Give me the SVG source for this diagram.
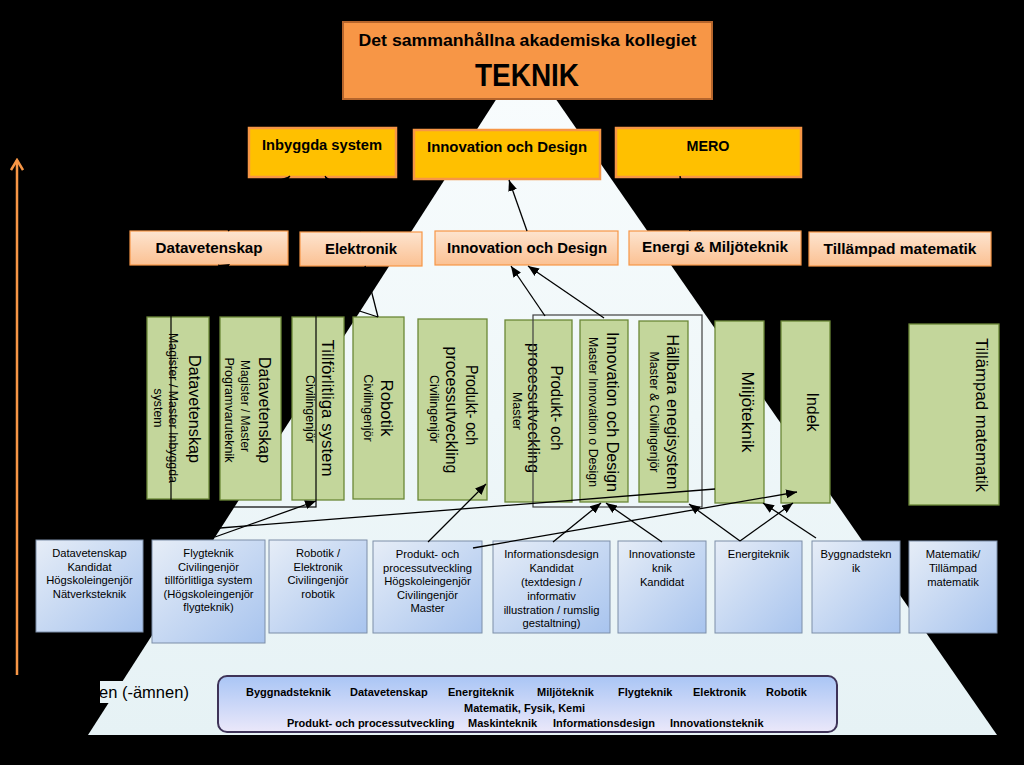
<svg xmlns="http://www.w3.org/2000/svg" width="1024" height="765" viewBox="0 0 1024 765">
<defs>
<linearGradient id="pyr" x1="0" y1="0" x2="0" y2="1"><stop offset="0" stop-color="#f8fcfd"/><stop offset="1" stop-color="#e6f2f5"/></linearGradient>
<linearGradient id="peach" x1="0" y1="0" x2="0" y2="1"><stop offset="0" stop-color="#fde4cf"/><stop offset="1" stop-color="#fbc193"/></linearGradient>
<linearGradient id="blue" x1="0" y1="0" x2="1" y2="1"><stop offset="0" stop-color="#e6edf7"/><stop offset="1" stop-color="#a8c4ee"/></linearGradient>
<linearGradient id="base" x1="0" y1="0" x2="0" y2="1"><stop offset="0" stop-color="#a9c5f5"/><stop offset="1" stop-color="#ebe8fa"/></linearGradient>
<marker id="ah" markerUnits="userSpaceOnUse" markerWidth="11" markerHeight="9" refX="11" refY="4.5" orient="auto"><path d="M0,0 L11,4.5 L0,9 z" fill="#000"/></marker>
<marker id="oah" markerUnits="userSpaceOnUse" markerWidth="14" markerHeight="14" refX="12" refY="7" orient="auto"><path d="M2,1 L12,7 L2,13" fill="none" stroke="#f79646" stroke-width="2.5"/></marker>
<style>
text{font-family:"Liberation Sans",Arial,sans-serif;fill:#000}
.top{fill:#f79646;stroke:#b5652c;stroke-width:2}
.yel{fill:#ffc000;stroke:#f79646;stroke-width:2.5}
.pch{fill:url(#peach);stroke:#f79646;stroke-width:1.2}
.grn{fill:#c3d69b;stroke:#6b8737;stroke-width:1.3}
.blu{fill:url(#blue);stroke:#7d8ea8;stroke-width:1}
.b{font-weight:bold}
.t16{font-size:16.5px}
.t12{font-size:12px}
.t11{font-size:11.2px}
.hd{font-size:14.5px;font-weight:bold}
.sm{font-size:11px;font-weight:bold}
.con line{stroke:#000;stroke-width:1.3;fill:none}
</style>
</defs>
<rect x="0" y="0" width="1024" height="765" fill="#000"/>
<polygon points="499,95 553,95 997,735 88,735" fill="url(#pyr)"/>
<polygon points="100,681 124,681 110,703 100,703" fill="#e8f3f6"/>
<text x="99" y="698" style="font-size:16.5px">en (-ämnen)</text>
<line x1="17" y1="675" x2="17" y2="160" stroke="#f79646" stroke-width="2.5" marker-end="url(#oah)"/>

<g id="n-teknik"><rect class="top" x="343" y="22" width="369" height="77"/>
<text class="b" x="527.5" y="46" text-anchor="middle" style="font-size:16.5px" textLength="338" lengthAdjust="spacingAndGlyphs">Det sammanhållna akademiska kollegiet</text>
<text class="b" x="527" y="86" text-anchor="middle" style="font-size:31px" textLength="104" lengthAdjust="spacingAndGlyphs">TEKNIK</text></g>

<g id="n-inbyggda"><rect class="yel" x="249" y="128" width="147" height="49"/><text class="hd" x="322" y="150" text-anchor="middle" textLength="120" lengthAdjust="spacingAndGlyphs">Inbyggda system</text></g>
<g id="n-innov2"><rect class="yel" x="414" y="130" width="186" height="49"/><text class="hd" x="507" y="152" text-anchor="middle" textLength="160" lengthAdjust="spacingAndGlyphs">Innovation och Design</text></g>
<g id="n-mero"><rect class="yel" x="616" y="128" width="185" height="49"/><text class="hd" x="708" y="151" text-anchor="middle" textLength="43" lengthAdjust="spacingAndGlyphs">MERO</text></g>

<g id="n-datavet3"><rect class="pch" x="130" y="231" width="158" height="34"/><text class="hd" x="209" y="253" text-anchor="middle" textLength="107" lengthAdjust="spacingAndGlyphs">Datavetenskap</text></g>
<g id="n-elektronik3"><rect class="pch" x="300" y="232" width="122" height="34"/><text class="hd" x="361" y="254" text-anchor="middle" textLength="72" lengthAdjust="spacingAndGlyphs">Elektronik</text></g>
<g id="n-innov3"><rect class="pch" x="435" y="231" width="183" height="34"/><text class="hd" x="527" y="253" text-anchor="middle" textLength="160" lengthAdjust="spacingAndGlyphs">Innovation och Design</text></g>
<g id="n-energi3"><rect class="pch" x="629" y="231" width="172" height="34"/><text class="hd" x="715" y="252" text-anchor="middle" textLength="146" lengthAdjust="spacingAndGlyphs">Energi &amp; Miljöteknik</text></g>
<g id="n-tillmat3"><rect class="pch" x="809" y="232" width="182" height="34"/><text class="hd" x="900" y="254" text-anchor="middle" textLength="153" lengthAdjust="spacingAndGlyphs">Tillämpad matematik</text></g>

<g id="g-datavet1"><rect class="grn" x="147" y="317" width="62" height="182"/>
<text class="t16" text-anchor="middle" transform="translate(189.2,409) rotate(90)" textLength="108" lengthAdjust="spacingAndGlyphs">Datavetenskap</text>
<text class="t12" text-anchor="middle" transform="translate(168.8,408) rotate(90)" textLength="150" lengthAdjust="spacingAndGlyphs">Magister / Master Inbyggda</text>
<text class="t12" text-anchor="middle" transform="translate(153.8,408) rotate(90)" textLength="39" lengthAdjust="spacingAndGlyphs">system</text></g>
<g id="g-datavet2"><rect class="grn" x="220" y="317" width="61" height="183"/>
<text class="t16" text-anchor="middle" transform="translate(259.2,410) rotate(90)" textLength="106" lengthAdjust="spacingAndGlyphs">Datavetenskap</text>
<text class="t12" text-anchor="middle" transform="translate(240.8,406) rotate(90)" textLength="92" lengthAdjust="spacingAndGlyphs">Magister / Master</text>
<text class="t12" text-anchor="middle" transform="translate(224.8,410) rotate(90)" textLength="105" lengthAdjust="spacingAndGlyphs">Programvaruteknik</text></g>
<g id="g-tillforl"><rect class="grn" x="292" y="317" width="52" height="183"/>
<text class="t16" text-anchor="middle" transform="translate(322.2,408) rotate(90)" textLength="137" lengthAdjust="spacingAndGlyphs">Tillförlitliga system</text>
<text class="t12" text-anchor="middle" transform="translate(305.8,409) rotate(90)" textLength="68" lengthAdjust="spacingAndGlyphs">Civilingenjör</text></g>
<g id="g-robotik"><rect class="grn" x="353" y="317" width="51" height="182"/>
<text class="t16" text-anchor="middle" transform="translate(381.2,408) rotate(90)" textLength="57" lengthAdjust="spacingAndGlyphs">Robotik</text>
<text class="t12" text-anchor="middle" transform="translate(363.8,408) rotate(90)" textLength="67" lengthAdjust="spacingAndGlyphs">Civilingenjör</text></g>
<g id="g-produkt1"><rect class="grn" x="418" y="319" width="69" height="181"/>
<text class="t16" text-anchor="middle" transform="translate(466.2,405) rotate(90)" textLength="80" lengthAdjust="spacingAndGlyphs">Produkt- och</text>
<text class="t16" text-anchor="middle" transform="translate(446.2,410) rotate(90)" textLength="127" lengthAdjust="spacingAndGlyphs">processutveckling</text>
<text class="t12" text-anchor="middle" transform="translate(429.8,409) rotate(90)" textLength="68" lengthAdjust="spacingAndGlyphs">Civilingenjör</text></g>
<g id="g-produkt2"><rect class="grn" x="505" y="320" width="67" height="182"/>
<text class="t16" text-anchor="middle" transform="translate(551.2,408) rotate(90)" textLength="85" lengthAdjust="spacingAndGlyphs">Produkt- och</text>
<text class="t16" text-anchor="middle" transform="translate(528.2,408) rotate(90)" textLength="130" lengthAdjust="spacingAndGlyphs">processutveckling</text>
<text class="t12" text-anchor="middle" transform="translate(512.8,411) rotate(90)" textLength="38" lengthAdjust="spacingAndGlyphs">Master</text></g>
<g id="g-innov"><rect class="grn" x="580" y="320" width="48" height="182"/>
<text class="t16" text-anchor="middle" transform="translate(607.2,412) rotate(90)" textLength="160" lengthAdjust="spacingAndGlyphs">Innovation och Design</text>
<text class="t12" text-anchor="middle" transform="translate(588.8,412) rotate(90)" textLength="150" lengthAdjust="spacingAndGlyphs">Master Innovation o Design</text></g>
<g id="g-hallbara"><rect class="grn" x="639" y="321" width="49" height="181"/>
<text class="t16" text-anchor="middle" transform="translate(667.2,412) rotate(90)" textLength="155" lengthAdjust="spacingAndGlyphs">Hällbara enegisystem</text>
<text class="t12" text-anchor="middle" transform="translate(649.8,412) rotate(90)" textLength="121" lengthAdjust="spacingAndGlyphs">Master &amp; Civilingenjör</text></g>
<g id="g-miljo"><rect class="grn" x="715" y="321" width="49" height="182"/>
<text class="t16" text-anchor="middle" transform="translate(742.2,412) rotate(90)" textLength="81" lengthAdjust="spacingAndGlyphs">Miljöteknik</text></g>
<g id="g-indek"><rect class="grn" x="781" y="321" width="49" height="182"/>
<text class="t16" text-anchor="middle" transform="translate(807.2,412) rotate(90)" textLength="39" lengthAdjust="spacingAndGlyphs">Indek</text></g>
<g id="g-tillmat"><rect class="grn" x="909" y="324" width="90" height="181"/>
<text class="t16" text-anchor="middle" transform="translate(976.2,415) rotate(90)" textLength="154" lengthAdjust="spacingAndGlyphs">Tillämpad matematik</text></g>

<g id="outlines" fill="none">
<rect x="171" y="312" width="145" height="195" stroke="#000" stroke-width="1.2"/>
<rect x="533" y="315" width="169" height="192" stroke="#404040" stroke-width="1.2"/>
</g>

<g id="b-datavet"><rect class="blu" x="36" y="540" width="107" height="92"/>
<text class="t11" text-anchor="middle"><tspan x="89.5" y="557">Datavetenskap</tspan><tspan x="89.5" y="570.5">Kandidat</tspan><tspan x="89.5" y="584">Högskoleingenjör</tspan><tspan x="89.5" y="597.5">Nätverksteknik</tspan></text></g>
<g id="b-flyg"><rect class="blu" x="152" y="540" width="113" height="103"/>
<text class="t11" text-anchor="middle"><tspan x="208.5" y="557">Flygteknik</tspan><tspan x="208.5" y="570.5">Civilingenjör</tspan><tspan x="208.5" y="584">tillförlitliga system</tspan><tspan x="208.5" y="597.5">(Högskoleingenjör</tspan><tspan x="208.5" y="611">flygteknik)</tspan></text></g>
<g id="b-robotik"><rect class="blu" x="269" y="540" width="98" height="93"/>
<text class="t11" text-anchor="middle"><tspan x="318" y="557">Robotik /</tspan><tspan x="318" y="570.5">Elektronik</tspan><tspan x="318" y="584">Civilingenjör</tspan><tspan x="318" y="597.5">robotik</tspan></text></g>
<g id="b-produkt"><rect class="blu" x="373" y="541" width="109" height="92"/>
<text class="t11" text-anchor="middle"><tspan x="427.5" y="558">Produkt- och</tspan><tspan x="427.5" y="571.5">processutveckling</tspan><tspan x="427.5" y="585">Högskoleingenjör</tspan><tspan x="427.5" y="598.5">Civilingenjör</tspan><tspan x="427.5" y="612">Master</tspan></text></g>
<g id="b-info"><rect class="blu" x="493" y="541" width="117" height="92"/>
<text class="t11" text-anchor="middle"><tspan x="551.5" y="558">Informationsdesign</tspan><tspan x="551.5" y="572">Kandidat</tspan><tspan x="551.5" y="586">(textdesign /</tspan><tspan x="551.5" y="600">informativ</tspan><tspan x="551.5" y="613.5">illustration / rumslig</tspan><tspan x="551.5" y="627">gestaltning)</tspan></text></g>
<g id="b-innov"><rect class="blu" x="618" y="541" width="88" height="92"/>
<text class="t11" text-anchor="middle"><tspan x="662" y="558">Innovationste</tspan><tspan x="662" y="572">knik</tspan><tspan x="662" y="586">Kandidat</tspan></text></g>
<g id="b-energi"><rect class="blu" x="715" y="541" width="87" height="92"/>
<text class="t11" text-anchor="middle"><tspan x="758.5" y="558">Energiteknik</tspan></text></g>
<g id="b-bygg"><rect class="blu" x="812" y="541" width="88" height="92"/>
<text class="t11" text-anchor="middle"><tspan x="856" y="558">Byggnadstekn</tspan><tspan x="856" y="572">ik</tspan></text></g>
<g id="b-matte"><rect class="blu" x="909" y="541" width="88" height="92"/>
<text class="t11" text-anchor="middle"><tspan x="953" y="558">Matematik/</tspan><tspan x="953" y="572">Tillämpad</tspan><tspan x="953" y="586">matematik</tspan></text></g>

<g id="n-amnen"><rect x="218" y="676" width="619" height="56" rx="9" fill="url(#base)" stroke="#3e3358" stroke-width="2"/>
<text class="sm" y="696"><tspan x="246">Byggnadsteknik</tspan><tspan x="350">Datavetenskap</tspan><tspan x="448">Energiteknik</tspan><tspan x="537">Miljöteknik</tspan><tspan x="618">Flygteknik</tspan><tspan x="693">Elektronik</tspan><tspan x="766">Robotik</tspan></text>
<text class="sm" x="464" y="712">Matematik, Fysik, Kemi</text>
<text class="sm" y="727"><tspan x="287">Produkt- och processutveckling</tspan><tspan x="468">Maskinteknik</tspan><tspan x="553">Informationsdesign</tspan><tspan x="670">Innovationsteknik</tspan></text></g>

<g id="connectors" class="con">
<line x1="527" y1="231" x2="509" y2="180" marker-end="url(#ah)"/>
<line x1="545" y1="316" x2="511" y2="266" marker-end="url(#ah)"/>
<line x1="604" y1="318" x2="528" y2="266" marker-end="url(#ah)"/>
<line x1="378" y1="317" x2="365" y2="266" marker-end="url(#ah)"/>
<line x1="378" y1="317" x2="218" y2="265" marker-end="url(#ah)"/>
<line x1="228" y1="231" x2="290" y2="176" marker-end="url(#ah)"/>
<line x1="361" y1="231" x2="325" y2="176" marker-end="url(#ah)"/>
<line x1="690" y1="231" x2="680" y2="176" marker-end="url(#ah)"/>
<line x1="215" y1="537" x2="316" y2="501" marker-end="url(#ah)"/>
<line x1="220" y1="528" x2="715" y2="489"/>
<line x1="473" y1="548" x2="797" y2="492" marker-end="url(#ah)"/>
<line x1="428" y1="542" x2="486" y2="484" marker-end="url(#ah)"/>
<line x1="553" y1="542" x2="601" y2="503" marker-end="url(#ah)"/>
<line x1="662" y1="542" x2="606" y2="503" marker-end="url(#ah)"/>
<line x1="740" y1="541" x2="689" y2="504" marker-end="url(#ah)"/>
<line x1="740" y1="541" x2="793" y2="503" marker-end="url(#ah)"/>
<line x1="816" y1="538" x2="763" y2="503" marker-end="url(#ah)"/>
</g>
</svg>
